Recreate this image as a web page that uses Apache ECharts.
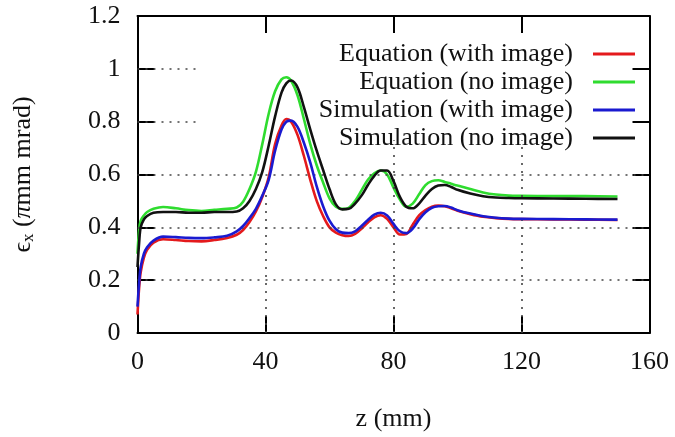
<!DOCTYPE html>
<html><head><meta charset="utf-8">
<script src="https://cdn.jsdelivr.net/npm/echarts@6/dist/echarts.min.js"></script>
<style>html,body{margin:0;padding:0;background:#fff}#c{width:675px;height:437px}</style>
</head><body><div id="c"></div>
<script>
// z positions (mm)
const zVals = [0,0.5,1,2,3,5,8,12,16,20,24,28,31,33,35,37,39,41,43,45,46.5,48,50,52,54,56,58,60,62,64,66,68,70,72,74,76,78,80,82,84,86,88,90,92,94,96,98,100,104,108,112,116,120,130,140,150];
const eqWithImage = [0.07,0.17,0.23,0.285,0.315,0.342,0.355,0.352,0.348,0.347,0.352,0.36,0.372,0.39,0.42,0.46,0.515,0.59,0.715,0.785,0.81,0.8,0.75,0.67,0.58,0.5,0.443,0.4,0.38,0.37,0.367,0.375,0.395,0.418,0.438,0.446,0.432,0.4,0.373,0.375,0.41,0.445,0.465,0.478,0.482,0.48,0.472,0.463,0.45,0.44,0.435,0.432,0.431,0.43,0.429,0.428];
const eqNoImage = [0.30,0.39,0.425,0.445,0.458,0.47,0.477,0.472,0.465,0.462,0.466,0.47,0.475,0.497,0.545,0.61,0.715,0.83,0.915,0.96,0.968,0.955,0.9,0.81,0.715,0.635,0.57,0.51,0.478,0.47,0.474,0.5,0.54,0.58,0.605,0.615,0.6,0.55,0.505,0.478,0.49,0.525,0.56,0.575,0.578,0.572,0.565,0.558,0.545,0.532,0.524,0.52,0.519,0.518,0.518,0.517];
const simWithImage = [0.10,0.19,0.25,0.30,0.325,0.35,0.365,0.363,0.36,0.359,0.362,0.368,0.385,0.405,0.435,0.47,0.52,0.58,0.69,0.77,0.8,0.804,0.78,0.72,0.645,0.555,0.48,0.425,0.393,0.38,0.378,0.385,0.405,0.428,0.448,0.455,0.445,0.413,0.385,0.378,0.395,0.43,0.457,0.474,0.48,0.481,0.475,0.465,0.452,0.442,0.436,0.433,0.432,0.431,0.43,0.429];
const simNoImage = [0.25,0.34,0.40,0.43,0.443,0.455,0.458,0.458,0.455,0.455,0.458,0.458,0.46,0.472,0.5,0.545,0.61,0.71,0.82,0.91,0.945,0.956,0.93,0.855,0.77,0.69,0.617,0.545,0.487,0.468,0.47,0.49,0.52,0.56,0.595,0.615,0.615,0.575,0.515,0.478,0.472,0.49,0.52,0.545,0.558,0.56,0.553,0.542,0.528,0.518,0.513,0.511,0.51,0.509,0.508,0.507];
const seriesNames = ['Equation (with image)','Equation (no image)','Simulation (with image)','Simulation (no image)'];
const xTicks = [0,40,80,120,160];
const yTicks = [0,0.2,0.4,0.6,0.8,1.0,1.2];
// grid line extents: [value, from, to]
const hGrid = [[0.2,0,160],[0.4,0,160],[0.6,0,160],[0.8,0,19.5],[1.0,0,19.5]];
const vGrid = [[40,0,0.564],[80,0,0.73],[120,0,0.73]];

const colors = ['#e41a1c','#2fdc2f','#1a1ad0','#111111'];
const font = '"Liberation Serif","DejaVu Serif",serif';
const fs = 26;
const allVals = [eqWithImage, eqNoImage, simWithImage, simNoImage];

const chart = echarts.init(document.getElementById('c'));
const series = allVals.map((vals,i)=>({
  name: seriesNames[i], type:'line', smooth:0.35, showSymbol:false,
  data: zVals.map((z,k)=>[z, vals[k]]),
  lineStyle:{color:colors[i], width:2.6}, itemStyle:{color:colors[i]}, z:3+i
}));
const gridLines = [];
hGrid.forEach(g=>gridLines.push([{coord:[g[1],g[0]]},{coord:[g[2],g[0]]}]));
vGrid.forEach(g=>gridLines.push([{coord:[g[0],g[1]]},{coord:[g[0],g[2]]}]));
series.unshift({
  type:'line', data:[], z:1, silent:true,
  markLine:{silent:true, symbol:['none','none'], animation:false, label:{show:false},
    lineStyle:{color:'#444', type:[2,6], width:1.6}, data:gridLines}
});
const axisCommon = {
  type:'value', axisLine:{show:true, onZero:false, lineStyle:{color:'#000', width:2}},
  axisTick:{show:true, inside:true, length:17, lineStyle:{color:'#000', width:2}},
  splitLine:{show:false}
};
chart.setOption({
  animation:false,
  grid:{left:137.5, right:25.5, top:16, bottom:87},
  legend:{
    data:seriesNames, orient:'vertical', right:35, top:36, align:'right',
    icon:'rect', itemWidth:42, itemHeight:3, itemGap:2,
    textStyle:{fontFamily:font, fontSize:fs, lineHeight:26, color:'#111', padding:[0,15,0,0]}
  },
  xAxis:[
    Object.assign({}, axisCommon, {position:'bottom', min:xTicks[0], max:xTicks[xTicks.length-1], interval:40,
      name:'z (mm)', nameLocation:'middle', nameGap:73,
      nameTextStyle:{fontFamily:font, fontSize:fs, color:'#111'},
      axisLabel:{fontFamily:font, fontSize:fs, color:'#111', margin:16}}),
    Object.assign({}, axisCommon, {position:'top', min:xTicks[0], max:xTicks[xTicks.length-1], interval:40,
      axisLabel:{show:false}})
  ],
  yAxis:[
    Object.assign({}, axisCommon, {position:'left', min:yTicks[0], max:yTicks[yTicks.length-1], interval:0.2,
      name:'{e|ϵ}{s|x}{e| (}{p|π}{e|mm mrad)}', nameLocation:'middle', nameGap:100,
      nameTextStyle:{fontFamily:font, fontSize:fs, color:'#111',
        rich:{e:{fontFamily:font, fontSize:fs, color:'#111'},
              s:{fontFamily:font, fontSize:17, color:'#111', verticalAlign:'bottom', padding:[12,0,0,0]},
              p:{fontFamily:font, fontSize:fs, fontStyle:'italic', color:'#111'}}},
      axisLabel:{fontFamily:font, fontSize:fs, color:'#111', margin:17}}),
    Object.assign({}, axisCommon, {position:'right', min:yTicks[0], max:yTicks[yTicks.length-1], interval:0.2,
      axisLabel:{show:false}})
  ],
  series: series
});
</script></body></html>
